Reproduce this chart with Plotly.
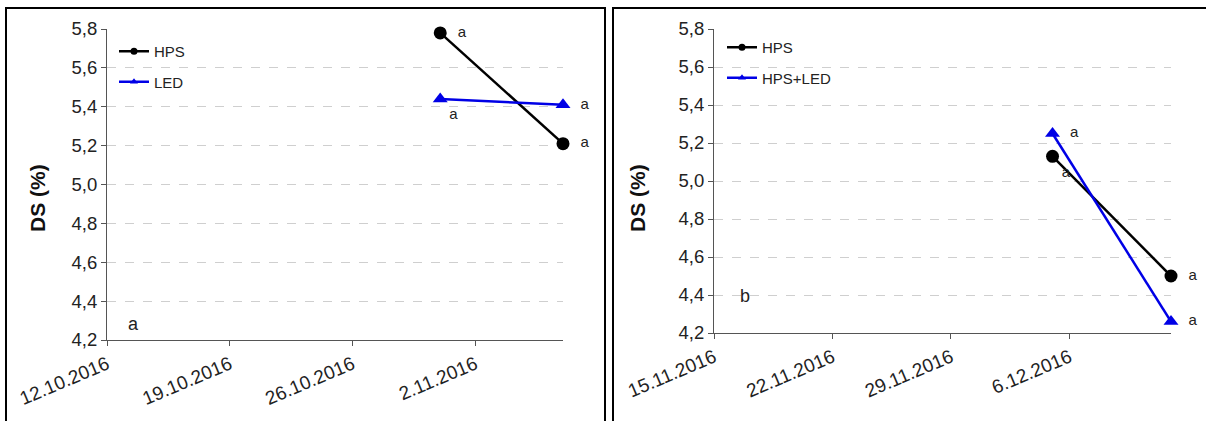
import plotly.graph_objects as go

W, H = 1206, 421

# ---- data ----
dates_a = ["2016-10-31", "2016-11-07"]
hps_a = [5.78, 5.21]
led_a = [5.44, 5.41]
labels_hps_a = ["a", "a"]
labels_led_a = ["a", "a"]

dates_b = ["2016-12-05", "2016-12-12"]
hps_b = [5.13, 4.50]
hpsled_b = [5.25, 4.26]
labels_hps_b = ["a", "a"]
labels_hpsled_b = ["a", "a"]

ticks_a = ["2016-10-12", "2016-10-19", "2016-10-26", "2016-11-02"]
ticktext_a = ["12.10.2016", "19.10.2016", "26.10.2016", "2.11.2016"]
ticks_b = ["2016-11-15", "2016-11-22", "2016-11-29", "2016-12-06"]
ticktext_b = ["15.11.2016", "22.11.2016", "29.11.2016", "6.12.2016"]

y_ticks = [4.2, 4.4, 4.6, 4.8, 5.0, 5.2, 5.4, 5.6, 5.8]


def px(x):
    return x / W


def py(y):
    return 1 - y / H


FONT = "Liberation Sans, Arial, sans-serif"
BLUE = "#0000e6"
NBSP = "\u00a0"

fig = go.Figure()


def add_series(x, y, text, tpos, color, symbol, xa, ya, name, legend):
    shown = [(NBSP * 2 + t) if "right" in p and "bottom" not in p else t for t, p in zip(text, tpos)]
    fig.add_trace(go.Scatter(
        x=x, y=y, mode="lines+markers+text", text=shown, textposition=tpos,
        textfont=dict(size=15, color="#222", family=FONT),
        line=dict(color=color, width=2.5),
        marker=dict(color=color, size=13, symbol=symbol),
        xaxis=xa, yaxis=ya, showlegend=False, cliponaxis=False, name=name))
    # legend entry with small marker
    fig.add_trace(go.Scatter(
        x=[None], y=[None], mode="lines+markers", name=name,
        line=dict(color=color, width=2.5),
        marker=dict(color=color, size=7, symbol=symbol),
        xaxis=xa, yaxis=ya, showlegend=True, legend=legend, legendgroup=name + legend))


add_series(dates_a, hps_a, labels_hps_a, ["middle right", "middle right"], "black", "circle", "x", "y", "HPS", "legend")
add_series(dates_a, led_a, labels_led_a, ["bottom right", "middle right"], BLUE, "triangle-up", "x", "y", "LED", "legend")
add_series(dates_b, hps_b, labels_hps_b, ["bottom right", "middle right"], "black", "circle", "x2", "y2", "HPS", "legend2")
add_series(dates_b, hpsled_b, labels_hpsled_b, ["middle right", "middle right"], BLUE, "triangle-up", "x2", "y2", "HPS+LED", "legend2")

axis_common = dict(
    showline=True, linecolor="#555", linewidth=1.2, ticks="outside", ticklen=5,
    tickcolor="#555", zeroline=False, fixedrange=True, automargin=False,
)

xcommon = dict(axis_common, type="date", showgrid=False, tickangle=-23,
               tickfont=dict(size=19, color="#222", family=FONT))
ycommon = dict(axis_common, range=[4.2, 5.8], tickvals=y_ticks, tickformat=".1f",
               tickfont=dict(size=18.5, color="#222", family=FONT),
               showgrid=True, gridcolor="#cfcfcf", griddash="dash", gridwidth=1)

legend_common = dict(font=dict(size=15, color="#222", family=FONT), bgcolor="rgba(0,0,0,0)",
                     xanchor="left", yanchor="top", tracegroupgap=8, itemwidth=30)

fig.update_layout(
    template="none",
    width=W, height=H, autosize=False,
    margin=dict(l=0, r=0, t=0, b=0, pad=0, autoexpand=False),
    paper_bgcolor="white", plot_bgcolor="white",
    separators=", ",
    font=dict(family=FONT, color="#222"),
    xaxis=dict(xcommon, domain=[px(107), px(563)], range=["2016-10-12", "2016-11-07"],
               tickvals=ticks_a, ticktext=ticktext_a, anchor="y"),
    yaxis=dict(ycommon, domain=[py(340), py(29)], anchor="x"),
    xaxis2=dict(xcommon, domain=[px(714), px(1171)], range=["2016-11-15", "2016-12-12"],
                tickvals=ticks_b, ticktext=ticktext_b, anchor="y2"),
    yaxis2=dict(ycommon, domain=[py(333), py(29)], anchor="x2"),
    legend=dict(legend_common, x=px(114), y=py(35)),
    legend2=dict(legend_common, x=px(722), y=py(31)),
    showlegend=True,
)

# y titles and panel letters
for xc, txt in [(37, "DS (%)"), (637, "DS (%)")]:
    fig.add_annotation(x=px(xc), y=py(198), xref="paper", yref="paper", text=txt,
                       showarrow=False, textangle=-90, xanchor="center", yanchor="middle",
                       font=dict(size=21, color="#111", family=FONT, weight="bold"))
fig.add_annotation(x=px(133), y=py(324), xref="paper", yref="paper", text="a",
                   showarrow=False, xanchor="center", yanchor="middle",
                   font=dict(size=18, color="#222", family=FONT))
fig.add_annotation(x=px(745), y=py(296), xref="paper", yref="paper", text="b",
                   showarrow=False, xanchor="center", yanchor="middle",
                   font=dict(size=18, color="#222", family=FONT))

# panel borders
fig.add_shape(type="rect", xref="paper", yref="paper", x0=px(6), x1=px(605), y0=py(430), y1=py(8),
              line=dict(color="black", width=2))
fig.add_shape(type="rect", xref="paper", yref="paper", x0=px(613), x1=px(1212), y0=py(430), y1=py(8),
              line=dict(color="black", width=2))

fig.write_html("out.html")
